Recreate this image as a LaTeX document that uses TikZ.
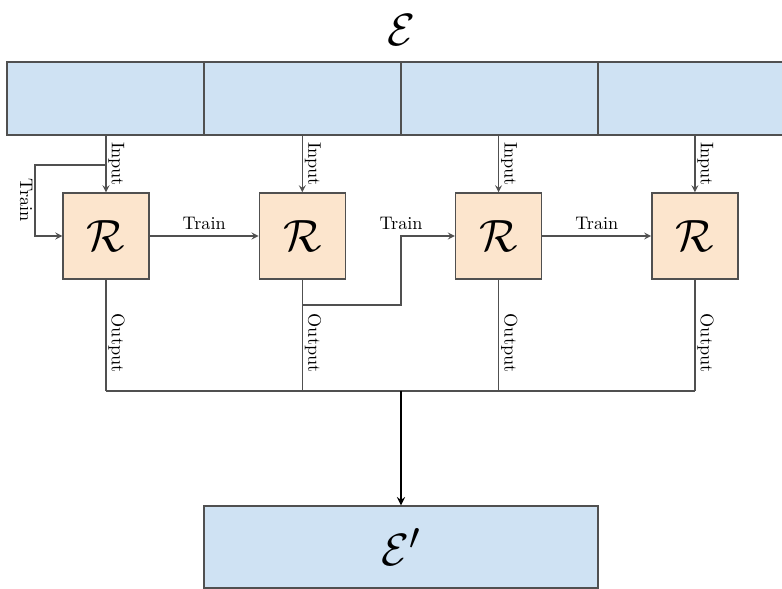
\documentclass[tikz,border=0pt]{standalone}
\usepackage{amsmath,amssymb}
\usetikzlibrary{positioning}
\definecolor{cellblue}{HTML}{CFE2F3}
\definecolor{boxorange}{HTML}{FCE5CD}
\definecolor{edgegray}{HTML}{505050}

\begin{document}
\begin{tikzpicture}[x=0.55pt,y=-0.55pt,
	cell/.style={draw=edgegray,fill=cellblue,line width=0.8pt,minimum width=108.35pt,minimum height=40.15pt,inner sep=0pt},
	rbox/.style={draw=edgegray,fill=boxorange,line width=0.8pt,minimum size=47.3pt,inner sep=0pt,font=\Huge},
	wire/.style={edgegray,line width=0.7pt},
	arr/.style={wire,-stealth},
	lab/.style={font=\normalsize,text=black,inner sep=1pt}]
	\useasboundingbox (0,0) rectangle (782,589);

	% ensemble on top, split into four parts
	\node[font=\Huge] (ens) at (401,30) {$\mathcal{E}$};
	\foreach \i in {1,...,4}
		\node[cell] (cell\i) at ({105.5+197*(\i-1)},98.5) {};

	% one R per part
	\foreach \i in {1,...,4}
		\node[rbox] (r\i) at ({106+196.3*(\i-1)},236) {$\mathcal{R}$};

	% inputs
	\foreach \i in {1,...,4}
		\draw[arr] (r\i.north |- cell\i.south) -- (r\i.north)
			node[lab,midway,rotate=-90,anchor=south] {Input};

	% train links
	\coordinate (ytap) at (0,165);
	\coordinate (tap) at (r1.north |- ytap);
	\coordinate (loop) at (35,165);
	\draw[arr] (tap) -- (loop) |- node[lab,pos=0.25,rotate=-90,anchor=north] {Train} (r1.west);
	\draw[arr] (r1.east) -- (r2.west) node[lab,midway,above=2pt] {Train};
	\coordinate (ylow) at (0,305);
	\coordinate (ttap) at (r2.south |- ylow);
	\coordinate (tx) at (401,0);
	\coordinate (bend) at (tx |- r3.west);
	\draw[arr] (ttap) -| (bend) -- (r3.west);
	\node[lab,above=2pt] at (bend) {Train};
	\draw[arr] (r3.east) -- (r4.west) node[lab,midway,above=2pt] {Train};

	% outputs onto the bus
	\coordinate (bus) at (0,391);
	\foreach \i in {1,...,4}
		\draw[wire] (r\i.south) -- (r\i.south |- bus)
			node[lab,pos=0.57,rotate=-90,anchor=south] {Output};
	\draw[wire] (r1.south |- bus) -- (r4.south |- bus);

	% merged ensemble
	\node[cell,minimum width=216.7pt,minimum height=45.1pt,font=\Huge] (ensout) at (401,547) {$\mathcal{E}'$};
	\draw[-stealth,black,line width=1pt] (ensout.north |- bus) -- (ensout.north);
\end{tikzpicture}
\end{document}
